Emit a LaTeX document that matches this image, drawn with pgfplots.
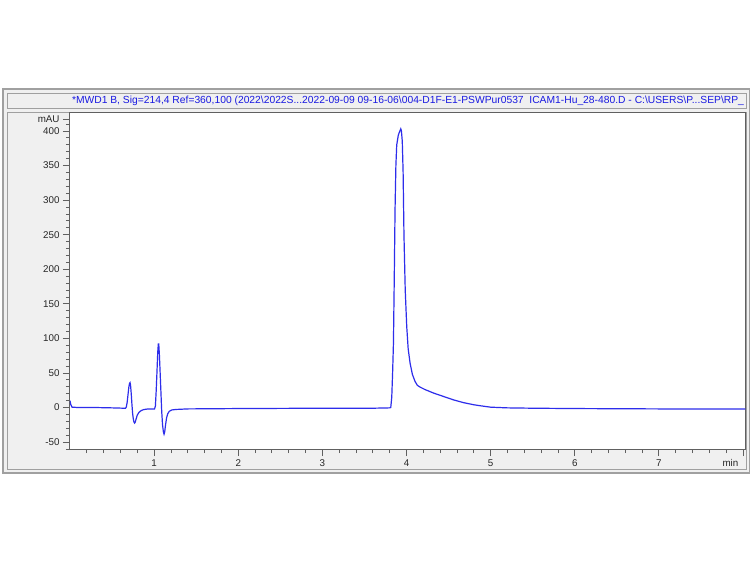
\documentclass[border=0pt]{standalone}
\usepackage{pgfplots}
\pgfplotsset{compat=1.18}
\usepackage{fontspec}
\setmainfont{Liberation Sans}
\definecolor{trace}{RGB}{45,45,235}
\definecolor{titleblue}{RGB}{25,25,225}
\definecolor{panel}{RGB}{240,240,240}
\definecolor{frameline}{RGB}{160,160,160}
\begin{document}
\begin{tikzpicture}
% 1 px of the reference = 0.5pt; origin at the lower left corner of the axis
\path[fill=white,use as bounding box] (-35pt,224.5pt) rectangle (340.5pt,-57.5pt);
\draw[frameline,fill=panel,line width=0.6pt] (-33.5pt,180pt) rectangle (339.75pt,-12pt);
\draw[frameline,fill=panel,line width=0.5pt] (-31pt,178pt) rectangle (338pt,170.5pt);
\node[text=titleblue,font=\fontsize{5.15}{6}\selectfont,inner sep=0pt] at (169pt,174.25pt)
  {*MWD1 B, Sig=214,4 Ref=360,100 (2022\textbackslash 2022S...2022-09-09 09-16-06\textbackslash 004-D1F-E1-PSWPur0537\ \ ICAM1-Hu\_28-480.D - C:\textbackslash USERS\textbackslash P...SEP\textbackslash RP\_};
\draw[frameline,line width=0.5pt] (-31pt,168.5pt) rectangle (338pt,-10.25pt);
\begin{axis}[
  at={(0,0)}, anchor=south west,
  scale only axis, width=337.75pt, height=168.35pt,
  xmin=0, xmax=8.03, ymin=-60, ymax=427,
  axis background/.style={fill=white},
  axis line style={draw=gray!75!black, line width=0.5pt},
  xtick={1,2,3,4,5,6,7},
  minor xtick={0.2,0.4,...,7.9},
  extra x ticks={8}, extra x tick labels={min},
  extra x tick style={xticklabel style={anchor=north east, xshift=1.2pt}},
  ytick={-50,0,50,100,150,200,250,300,350,400},
  minor ytick={-60,-40,-30,-20,-10,10,20,30,40,60,70,80,90,110,120,130,140,160,170,180,190,210,220,230,240,260,270,280,290,310,320,330,340,360,370,380,390,409},
  extra y ticks={417}, extra y tick labels={mAU},
  tick align=outside, xtick pos=bottom, ytick pos=left,
  major tick length=3.5pt, minor tick length=2pt,
  tick style={draw=gray!75!black, line width=0.4pt},
  ticklabel style={font=\fontsize{4.9}{5.5}\selectfont, text=black!85},
  /pgf/number format/assume math mode=true,
  yticklabel style={xshift=1.8pt},
  xticklabel style={yshift=1.9pt},
]
\addplot[trace, line width=0.6pt, no markers] coordinates {
(0.000,10) (0.010,4) (0.025,0.5) (0.10,0) (0.30,0) (0.50,-0.5) (0.64,-1)
(0.660,-1) (0.670,1) (0.680,8) (0.690,19) (0.700,30) (0.708,35) (0.714,36)
(0.720,32) (0.728,20) (0.736,5) (0.744,-8) (0.752,-16) (0.760,-21)
(0.768,-22.5) (0.776,-21) (0.786,-16.5) (0.800,-11) (0.820,-7) (0.845,-4.5)
(0.875,-3) (0.920,-2.2) (1.005,-2) (1.015,2) (1.025,25) (1.035,55)
(1.043,80) (1.050,92) (1.055,92) (1.062,78) (1.070,55) (1.080,25)
(1.090,-5) (1.100,-25) (1.110,-35) (1.118,-38.5) (1.126,-35) (1.136,-25)
(1.148,-15) (1.162,-9) (1.180,-5.5) (1.210,-3.5) (1.26,-2.8) (1.40,-2)
(2.0,-1.5) (3.0,-1) (3.6,-1)
(3.800,-0.5) (3.813,0) (3.825,15) (3.835,50) (3.845,93) (3.855,190)
(3.864,286) (3.874,350) (3.884,380) (3.903,394) (3.915,398) (3.932,403)
(3.940,400) (3.950,385) (3.960,340) (3.970,250) (3.985,170) (4.003,117)
(4.020,85) (4.043,64) (4.070,48) (4.102,37.6) (4.130,32) (4.162,29.5)
(4.22,26) (4.32,21) (4.44,16) (4.56,11) (4.68,7) (4.80,4) (4.88,2.5)
(5.0,0.5) (5.2,-0.5) (5.5,-1) (6.0,-1.5) (7.0,-2) (8.03,-2)
};
\end{axis}
\end{tikzpicture}
\end{document}
